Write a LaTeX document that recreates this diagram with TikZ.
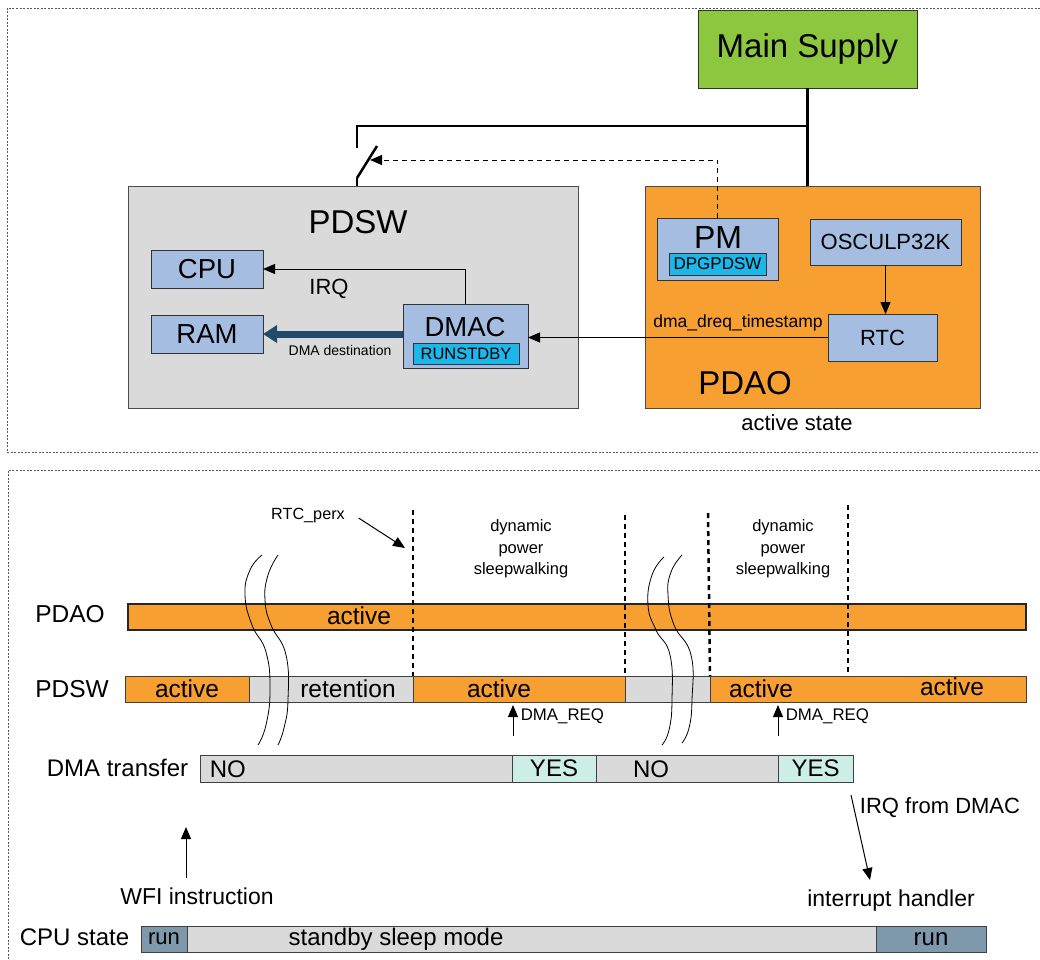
\documentclass[tikz,border=0pt]{standalone}
\usepackage{fontspec}
\setmainfont{Liberation Sans}
\usetikzlibrary{arrows.meta}
\definecolor{supgreen}{HTML}{8DC63F}
\definecolor{pdgray}{HTML}{DADADA}
\definecolor{pdorange}{HTML}{F79F31}
\definecolor{blkblue}{HTML}{A4BDE1}
\definecolor{bitcyan}{HTML}{1BB7E9}
\definecolor{dmablue}{HTML}{244A6B}
\definecolor{yesteal}{HTML}{CDEDE7}
\definecolor{runslate}{HTML}{7E99AC}
\newcommand\fsz[1]{\fontsize{#1pt}{#1pt}\selectfont}
\begin{document}
\begin{tikzpicture}[x=1pt,y=-1pt,line width=1pt,
  box/.style={draw=black!80,anchor=north west,inner sep=0pt,outer sep=0pt},
  blk/.style={box,fill=blkblue},
  bit/.style={box,fill=bitcyan,font=\fsz{16.5}},
  seg/.style={draw=black!75,anchor=north west,inner sep=0pt,outer sep=0pt,minimum height=26pt,font=\fsz{24}},
  tip/.style={-{Triangle[length=12pt,width=10pt]}},
  supply/.style={line width=2.5pt},
  ticks/.style={line width=2.5pt,dash pattern=on 5pt off 4pt},
  frame/.style={line width=.8pt,black!65,dash pattern=on 2pt off 1.5pt},
  brk/.style={line width=.8pt}]
\useasboundingbox (0,0) rectangle (1040,959);
% frames
\draw[frame] (1040,8)--(7,8)--(7,452)--(1040,452);
\draw[frame] (1040,470)--(8,470)--(8,959);
% power domains
\node[box,fill=supgreen,minimum width=219pt,minimum height=78pt,font=\fsz{33}] (main) at (698,10) {Main Supply};
\node[box,fill=pdgray,draw=black!70,minimum width=450pt,minimum height=222pt] (pdsw) at (128,186) {};
\node[font=\fsz{33}] (pdswlbl) at (358,222) {PDSW};
\node[box,fill=pdorange,draw=black!70,minimum width=335pt,minimum height=222pt] (pdao) at (645,186) {};
\node[font=\fsz{33}] (pdaolbl) at (745,383) {PDAO};
\node[font=\fsz{22}] (actstate) at (797,423) {active state};
% blocks
\node[blk,minimum width=112pt,minimum height=38pt,font=\fsz{27.5}] (cpu) at (151,250) {CPU};
\node[blk,minimum width=112pt,minimum height=38pt,font=\fsz{27.5}] (ram) at (151,315) {RAM};
\node[blk,minimum width=125pt,minimum height=64pt] (dmac) at (403,304) {};
\node[font=\fsz{27.5}] (dmaclbl) at (465,327) {DMAC};
\node[bit,minimum width=106pt,minimum height=21pt] (runstdby) at (413,343) {RUNSTDBY};
\node[blk,minimum width=121pt,minimum height=62pt] (pm) at (657,218) {};
\node[font=\fsz{32}] (pmlbl) at (718,237) {PM};
\node[bit,minimum width=97pt,minimum height=22pt,font=\fsz{17}] (dpgpdsw) at (669,253) {DPGPDSW};
\node[blk,minimum width=151pt,minimum height=46pt,font=\fsz{22}] (osc) at (810,219) {OSCULP32K};
\node[blk,minimum width=109pt,minimum height=47pt,font=\fsz{22}] (rtc) at (828,314) {RTC};
% supply and switch
\coordinate (junc) at (807,126); \coordinate (swtop) at (357,148); \coordinate (swbot) at (357,178); \coordinate (blade) at (377,146); \coordinate (swarm) at (370,160);
\draw[supply] (main.south) -- (main.south |- pdao.north);
\draw[supply] (junc) -- (junc -| swtop) -- (swtop);
\draw[supply] (swbot) -- (blade); \draw[supply] (swbot) -- (swbot |- pdsw.north);
\draw[tip,dash pattern=on 5pt off 4pt] (pm.north) |- (swarm);
% signals
\draw[tip] (dmac.north) |- (cpu.east);
\node[font=\fsz{22}] (irq) at (329,289) {IRQ};
\draw[line width=7pt,dmablue,-{Triangle[length=14pt,width=17pt]}] (dmac.west |- ram.east) -- (ram.east);
\node[font=\fsz{14}] (dmadest) at (340,350) {DMA destination};
\draw[tip] (rtc.west) -- (rtc.west -| dmac.east);
\node[font=\fsz{17.5}] (dreq) at (738,323) {dma\_dreq\_timestamp};
\draw[tip] (osc.south) -- (osc.south |- rtc.north);
% timeline rows
\node[font=\fsz{24.5}] (aorow) at (70,614) {PDAO};
\node[font=\fsz{24.5}] (swrow) at (72,689) {PDSW};
\node[anchor=east,font=\fsz{24}] (dmarow) at (192,768) {DMA transfer};
\node[anchor=east,font=\fsz{24}] (cpurow) at (133,937) {CPU state};
\node[seg,fill=pdorange,line width=1.6pt,draw=black!85,minimum width=898pt] (aobar) at (128,604) {};
\node[font=\fsz{24.5}] at (359,616) {active};
\node[seg,fill=pdorange,minimum width=124pt,font=\fsz{24.5}] (sw1) at (125,676) {active};
\node[seg,fill=pdgray,minimum width=164pt] (sw2) at (249,676) {};
\node[seg,fill=pdorange,minimum width=212pt] (sw3) at (413,676) {};
\node[seg,fill=pdgray,minimum width=85pt] (sw4) at (625,676) {};
\node[seg,fill=pdorange,minimum width=316pt] (sw5) at (710,676) {};
\node[font=\fsz{24.5}] at (348,689) {retention};
\node[font=\fsz{24.5}] at (499,689) {active};
\node[font=\fsz{24.5}] at (761,689) {active};
\node[font=\fsz{24.5}] at (952,687) {active};
\node[seg,fill=pdgray,minimum width=312pt,minimum height=27pt] (dm1) at (200,755) {};
\node[seg,fill=yesteal,minimum width=84pt,minimum height=27pt] (dm2) at (512,755) {YES};
\node[seg,fill=pdgray,minimum width=182pt,minimum height=27pt] (dm3) at (596,755) {};
\node[seg,fill=yesteal,minimum width=75pt,minimum height=27pt] (dm4) at (778,755) {YES};
\node[anchor=west,font=\fsz{24}] at (206,769) {NO};
\node[font=\fsz{24}] at (651,769) {NO};
\node[seg,fill=runslate,minimum width=46pt,font=\fsz{22}] (cp1) at (141,926) {run};
\node[seg,fill=pdgray,minimum width=689pt] (cp2) at (187,926) {};
\node[seg,fill=runslate,minimum width=110pt] (cp3) at (876,926) {run};
\node[font=\fsz{24}] at (396,939) {standby sleep mode};
% period marks
\draw[ticks] (413,510) -- (sw3.north west);
\draw[ticks] (625,515) -- (sw4.north west);
\draw[ticks] (708,513) -- (sw5.north west);
\draw[ticks] (848,505) -- (848,676);
\node[font=\fsz{16.2}] (rtcperx) at (308,516) {RTC\_perx};
\coordinate (perxhit) at (405,548);
\draw[tip] ([xshift=10pt,yshift=-2pt]rtcperx.east) -- (perxhit);
\node[align=center,font={\fontsize{16.5pt}{21.5pt}\selectfont}] (dps1) at (521,549) {dynamic\\power\\sleepwalking};
\node[align=center,font={\fontsize{16.5pt}{21.5pt}\selectfont}] (dps2) at (783,549) {dynamic\\power\\sleepwalking};
\node[anchor=west,font=\fsz{16.8}] (req1) at (517,716) {DMA\_REQ};
\node[anchor=west,font=\fsz{16.8}] (req2) at (782,716) {DMA\_REQ};
\coordinate (req1b) at (513,736); \coordinate (req2b) at (778,736);
\draw[tip,shorten >=3pt] (req1b) -- (req1b |- sw3.south);
\draw[tip,shorten >=3pt] (req2b) -- (req2b |- sw5.south);
% time breaks
\draw[brk] plot[smooth,tension=.8] coordinates {(262,555) (250,570) (245,595) (252,625) (266,652) (270,690) (266,725) (258,745)};
\draw[brk] plot[smooth,tension=.8] coordinates {(278,555) (268,575) (265,600) (271,625) (286,655) (288,700) (284,728) (278,745)};
\draw[brk] plot[smooth,tension=.8] coordinates {(664,557) (652,575) (648,605) (656,630) (670,655) (672,700) (669,730) (662,745)};
\draw[brk] plot[smooth,tension=.8] coordinates {(682,555) (671,572) (668,595) (674,625) (691,655) (692,700) (689,728) (682,743)};
% cpu events
\node[font=\fsz{23}] (wfi) at (197,896) {WFI instruction};
\coordinate (wfia) at (186,878); \coordinate (wfib) at (186,827);
\draw[tip] (wfia) -- (wfib);
\node[font=\fsz{22}] (irqdmac) at (940,808) {IRQ from DMAC};
\node[font=\fsz{23}] (handler) at (891,901) {interrupt handler};
\coordinate (irqa) at (851,795); \coordinate (irqb) at (870,880);
\draw[tip] (irqa) -- (irqb);
\end{tikzpicture}
\end{document}
